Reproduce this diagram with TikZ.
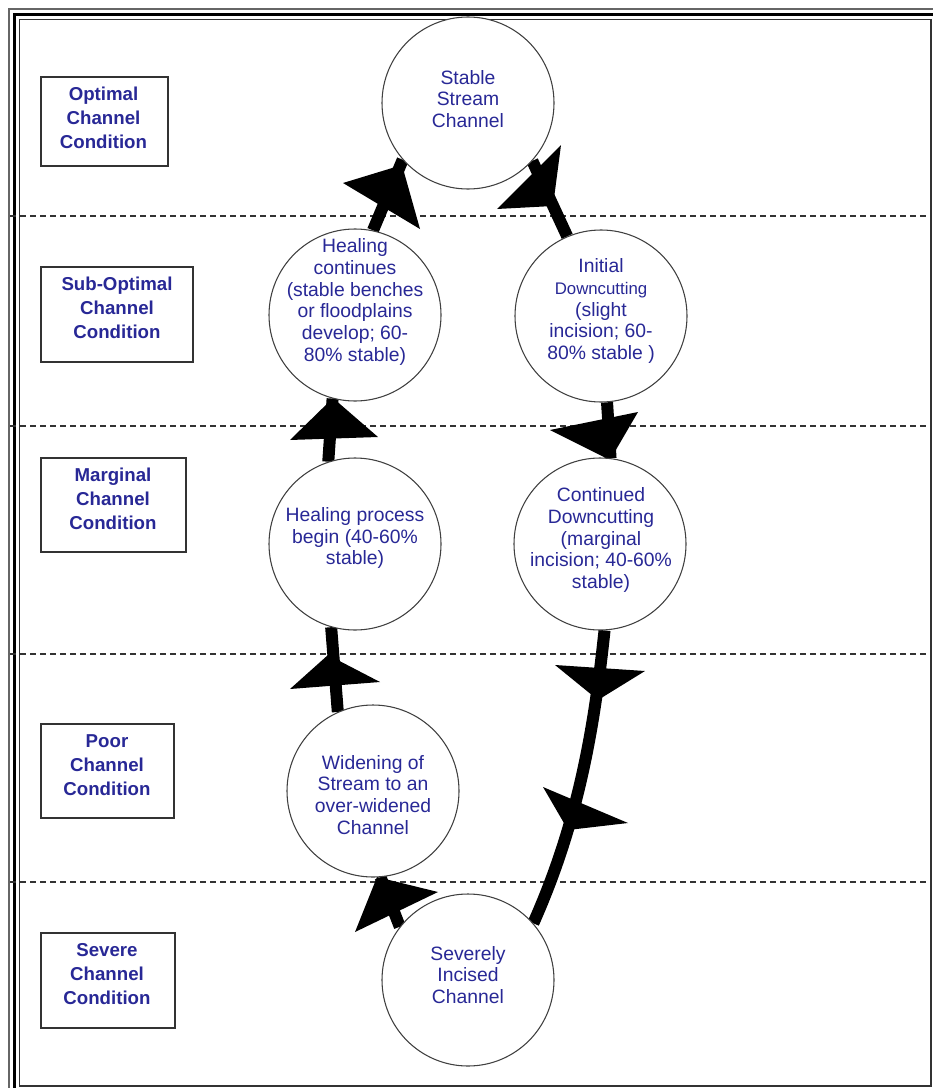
\documentclass[tikz,border=0pt]{standalone}
\usepackage{fontspec}
\setmainfont{Liberation Sans}
\definecolor{txtblue}{RGB}{40,40,150}
\pgfdeclarelayer{background}
\pgfsetlayers{background,main}
\begin{document}
\begin{tikzpicture}[x=0.75pt,y=-0.75pt,
  flow/.style={line width=9pt, black},
  head/.style={fill=black},
  stage/.style={circle, draw=black!75, line width=0.8pt, fill=white, minimum size=129pt, inner sep=0pt},
  stagetext/.style={text=txtblue, align=center, font=\fontsize{14.5}{16.4}\selectfont, inner sep=0pt},
  labbox/.style={draw=black!80, line width=1pt, inner sep=0pt},
  labtext/.style={text=txtblue, align=center, font=\bfseries\fontsize{14}{18}\selectfont, inner sep=0pt},
  sepline/.style={dash pattern=on 4.5pt off 3pt, line width=0.9pt, black!80},
  frameline/.style={line width=1.1pt, black!80}]
\useasboundingbox (0,0) rectangle (932,1088);
\clip (0,0) rectangle (932,1088);

% stage circles
\node[stage] (stable) at (468,103) {};
\node[stage] (healc)  at (355,315) {};
\node[stage] (init)   at (601,316) {};
\node[stage] (healb)  at (355,544) {};
\node[stage] (cont)   at (600,544) {};
\node[stage] (widen)  at (373,791) {};
\node[stage] (sev)    at (468,980) {};

% stage texts
\node[stagetext] (tstable) at (468,99) {Stable\\Stream\\Channel};
\node[stagetext] (thealc)  at (355,302) {Healing\\continues\\(stable benches\\or floodplains\\develop; 60-\\80\% stable)};
\node[stagetext] (tinit)   at (601,311) {Initial\\{\fontsize{12.6}{16.4}\selectfont Downcutting}\\(slight\\incision; 60-\\80\% stable )};
\node[stagetext] (thealb)  at (355,538) {Healing process\\begin (40-60\%\\stable)};
\node[stagetext] (tcont)   at (601,540) {Continued\\Downcutting\\(marginal\\incision; 40-60\%\\stable)};
\node[stagetext] (twiden)  at (373,795) {Widening of\\Stream to an\\over-widened\\Channel};
\node[stagetext] (tsev)    at (468,975) {Severely\\Incised\\Channel};

% condition label boxes
\node[labbox, minimum width=95.25pt, minimum height=66.75pt] (b1) at (104.5,121.5) {};
\node[labtext] (l1) at (103.5,118) {Optimal\\Channel\\Condition};
\node[labbox, minimum width=114pt, minimum height=71.25pt] (b2) at (117,314.5) {};
\node[labtext] (l2) at (117,308) {Sub-Optimal\\Channel\\Condition};
\node[labbox, minimum width=108.75pt, minimum height=70.5pt] (b3) at (113.5,505) {};
\node[labtext] (l3) at (113,499) {Marginal\\Channel\\Condition};
\node[labbox, minimum width=99.75pt, minimum height=70.5pt] (b4) at (107.5,771) {};
\node[labtext] (l4) at (107,765) {Poor\\Channel\\Condition};
\node[labbox, minimum width=100.5pt, minimum height=71.25pt] (b5) at (108,980.5) {};
\node[labtext] (l5) at (107,974) {Severe\\Channel\\Condition};

\begin{pgfonlayer}{background}
  \fill[white] (0,0) rectangle (932,1088);
  % frame
  \draw[frameline, black!60] (9,9) rectangle (942,1097);
  \draw[line width=2.2pt, black] (14.5,14.5) rectangle (938,1093);
  \draw[frameline] (19.5,19.5) rectangle (931,1086);
  % separators
  \foreach \yy in {216,426,654,882} \draw[sepline] (10,\yy) -- (932,\yy);
  % connectors
  \draw[flow] (healc.78) -- (stable.221);
  \draw[flow] (init.113) -- (stable.318);
  \draw[flow] (init.274) -- (cont.83);
  \draw[flow] (cont.273) .. controls (594,730) and (578,823) .. (sev.41);
  \draw[flow] (sev.142) -- (widen.275);
  \draw[flow] (widen.114) -- (healb.254);
  \draw[flow] (healb.108) -- (healc.255);
  % arrowheads
  \fill[head] (402,165) -- (343,183) -- (420,229) -- cycle;
  \fill[head] (561,145) -- (497,209) -- (553,206) -- cycle;
  \fill[head] (610,460) -- (550,430) -- (638,412) -- cycle;
  \fill[head] (598,700) -- (555,665) -- (645,671) -- cycle;
  \fill[head] (568,830) -- (543,787) -- (628,823) -- cycle;
  \fill[head] (377,877) -- (355,932) -- (438,892) -- cycle;
  \fill[head] (328,655) -- (290,689) -- (380,682) -- cycle;
  \fill[head] (333,398) -- (290,440) -- (378,437) -- cycle;
\end{pgfonlayer}
\end{tikzpicture}
\end{document}
